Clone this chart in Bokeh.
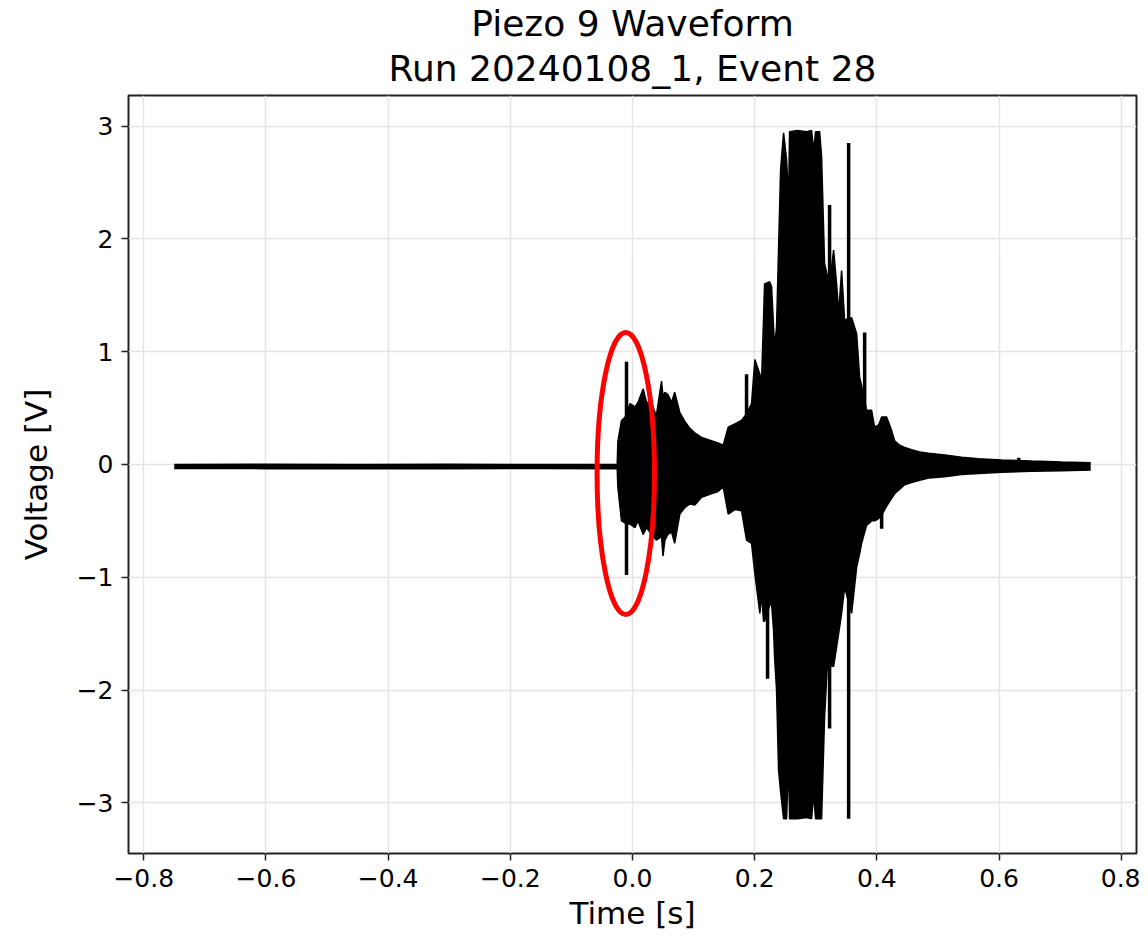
from bokeh.plotting import figure
from bokeh.models import Range1d, FixedTicker, Title, ColumnDataSource, CustomJSTickFormatter
from bokeh.embed import file_html
from bokeh.resources import INLINE

# ---- data ----
title_line1 = "Piezo 9 Waveform"
title_line2 = "Run 20240108_1, Event 28"
x_label = "Time [s]"
y_label = "Voltage [V]"

x_ticks = [-0.8, -0.6, -0.4, -0.2, 0.0, 0.2, 0.4, 0.6, 0.8]
y_ticks = [-3, -2, -1, 0, 1, 2, 3]

# envelope of the waveform (time [s], upper / lower voltage [V])
t_env = [-0.750, -0.600, -0.450, -0.300, -0.150, -0.025, -0.024, -0.018, -0.012, -0.004,
         0.004, 0.009, 0.0175, 0.023, 0.031, 0.039, 0.0475, 0.050, 0.053, 0.058,
         0.064, 0.069, 0.0775, 0.086, 0.094, 0.102, 0.113, 0.129, 0.140, 0.1485,
         0.1567, 0.1676, 0.1785, 0.1867, 0.1949, 0.2003, 0.2085, 0.2113, 0.2145, 0.2162,
         0.2244, 0.2276, 0.2309, 0.2326, 0.2358, 0.2391, 0.2424, 0.2473, 0.2522, 0.2555,
         0.2571, 0.2700, 0.2850, 0.2932, 0.2964, 0.2997, 0.3063, 0.3095, 0.3144, 0.3194,
         0.3259, 0.3292, 0.3341, 0.3374, 0.3423, 0.3472, 0.3587, 0.3669, 0.3718, 0.3750,
         0.3832, 0.3914, 0.3963, 0.4029, 0.4078, 0.4160, 0.4242, 0.4291, 0.4373, 0.4455,
         0.4569, 0.4700, 0.4848, 0.5110, 0.5388, 0.5667, 0.6043, 0.6535, 0.7026, 0.7500]
v_upper = [0.000, 0.002, 0.000, 0.002, 0.000, 0.002, 0.20, 0.39, 0.42, 0.54,
           0.51, 0.55, 0.67, 0.55, 0.55, 0.43, 0.74, 0.60, 0.64, 0.62,
           0.55, 0.64, 0.46, 0.38, 0.32, 0.28, 0.24, 0.21, 0.19, 0.17,
           0.33, 0.36, 0.39, 0.45, 0.54, 0.93, 0.80, 0.75, 1.29, 1.60,
           1.62, 1.58, 1.22, 1.03, 1.22, 1.91, 2.61, 2.94, 2.70, 2.34,
           2.95, 2.96, 2.95, 2.96, 2.78, 2.95, 2.95, 2.73, 1.78, 1.66,
           1.75, 1.90, 1.60, 1.34, 1.72, 1.28, 1.30, 1.16, 0.77, 0.70,
           0.48, 0.48, 0.33, 0.35, 0.42, 0.42, 0.30, 0.21, 0.17, 0.15,
           0.13, 0.11, 0.10, 0.085, 0.065, 0.05, 0.04, 0.03, 0.022, 0.015]
v_lower = [-0.035, -0.037, -0.035, -0.037, -0.035, -0.037, -0.20, -0.50, -0.52, -0.53,
           -0.56, -0.50, -0.62, -0.56, -0.62, -0.67, -0.64, -0.81, -0.67, -0.62,
           -0.60, -0.70, -0.44, -0.38, -0.35, -0.36, -0.29, -0.26, -0.24, -0.20,
           -0.44, -0.40, -0.41, -0.67, -0.70, -0.97, -1.32, -1.15, -1.39, -1.39,
           -1.25, -1.23, -1.47, -1.71, -2.00, -2.71, -2.90, -3.14, -3.14, -2.61,
           -3.14, -3.14, -3.13, -3.14, -2.92, -3.14, -3.14, -3.14, -2.24, -1.74,
           -1.79, -1.79, -1.62, -1.50, -1.32, -1.09, -1.32, -0.91, -0.79, -0.70,
           -0.54, -0.50, -0.50, -0.48, -0.45, -0.37, -0.30, -0.26, -0.22, -0.18,
           -0.16, -0.14, -0.12, -0.11, -0.09, -0.08, -0.07, -0.06, -0.055, -0.05]

# isolated narrow spikes (time, low, high)
spike_t = [-0.0098, 0.1867, 0.2211, 0.3226, 0.3538, 0.3800, 0.4078, 0.6322]
spike_lo = [-0.98, 0.0, -1.90, -2.34, -3.14, 0.0, -0.57, 0.0]
spike_hi = [0.91, 0.80, 0.0, 2.30, 2.85, 1.17, 0.0, 0.06]

# red highlight ellipse (centre time, centre voltage, width, height)
ell_t, ell_v, ell_w, ell_h = -0.011, -0.08, 0.094, 2.50

FONT = "DejaVu Sans"

p = figure(width=1140, height=939,
           x_range=Range1d(-0.825, 0.825), y_range=Range1d(-3.449, 3.271),
           output_backend="svg", toolbar_location=None, title=None,
           min_border_left=128, min_border_right=4, min_border_top=95, min_border_bottom=86)
p.background_fill_color = "white"
p.border_fill_color = "white"
p.outline_line_color = "#222222"
p.outline_line_width = 2

env = ColumnDataSource(dict(t=t_env, up=v_upper, lo=v_lower))
spk = ColumnDataSource(dict(t=spike_t, lo=spike_lo, hi=spike_hi))

p.varea(x="t", y1="lo", y2="up", source=env, fill_color="black")
p.line(x="t", y="up", source=env, line_color="black", line_width=1.5)
p.line(x="t", y="lo", source=env, line_color="black", line_width=1.5)
p.segment(x0="t", y0="lo", x1="t", y1="hi", source=spk, line_color="black", line_width=3.5)
p.ellipse(x=[ell_t], y=[ell_v], width=[ell_w], height=[ell_h],
          fill_color=None, line_color="red", line_width=5)

# axes
p.xaxis.ticker = FixedTicker(ticks=x_ticks)
p.yaxis.ticker = FixedTicker(ticks=y_ticks)
p.xaxis.formatter = CustomJSTickFormatter(code="return (tick < -1e-9 ? '\u2212' : '') + Math.abs(tick).toFixed(1);")
p.yaxis.formatter = CustomJSTickFormatter(code="return (tick < -1e-9 ? '\u2212' : '') + Math.abs(tick).toFixed(0);")
p.xaxis.axis_label = x_label
p.yaxis.axis_label = y_label
for ax in (p.xaxis, p.yaxis):
    ax.axis_line_color = None
    ax.major_tick_line_color = "#222222"
    ax.major_tick_line_width = 1.5
    ax.major_tick_out = 7
    ax.major_tick_in = 0
    ax.minor_tick_line_color = None
    ax.major_label_text_font = FONT
    ax.major_label_text_font_size = "25px"
    ax.major_label_text_color = "black"
    ax.axis_label_text_font = FONT
    ax.axis_label_text_font_size = "31px"
    ax.axis_label_text_font_style = "normal"
    ax.axis_label_text_color = "black"
p.xaxis.major_label_standoff = 8
p.yaxis.major_label_standoff = 8
p.xaxis.axis_label_standoff = 5
p.yaxis.axis_label_standoff = 20

p.grid.grid_line_color = "#e4e4e4"
p.grid.grid_line_width = 1.5

# two-line title (subtitle added first so it sits closest to the plot)
p.add_layout(Title(text=title_line2, align="center", text_font=FONT, text_font_size="36px",
                   text_font_style="normal", text_color="black", standoff=13), "above")
p.add_layout(Title(text=title_line1, align="center", text_font=FONT, text_font_size="36px",
                   text_font_style="normal", text_color="black", standoff=-8), "above")

open("out.html", "w").write(file_html(p, INLINE))
